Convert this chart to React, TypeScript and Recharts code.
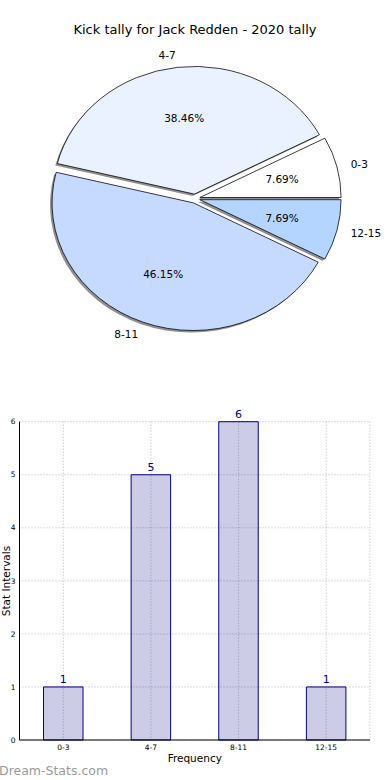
import React from 'react';
import { PieChart, Pie, Cell, BarChart, Bar, XAxis, YAxis, CartesianGrid, LabelList, Label } from 'recharts';

const categories = ['0-3', '4-7', '8-11', '12-15'];
const counts = [1, 5, 6, 1];
const sliceColors = ['#ffffff', '#eaf2ff', '#c6d9ff', '#b3d5ff'];
const yTicks = [0, 1, 2, 3, 4, 5, 6];

const pieData = categories.map((name, i) => ({ name, value: counts[i] }));
const barData = categories.map((name, i) => ({ name, count: counts[i] }));

const FONT = '"DejaVu Sans", sans-serif';

// pie is drawn as a circle and squashed vertically into an ellipse
const SQUASH = 127.7 / 141.2;
const R = 141.2;
const CX = 195;
const CY = 219.6;
const EXPLODE = 5;

const total = counts.reduce((a, b) => a + b, 0);
const midAngles = counts.map((v, i) => {
  const before = counts.slice(0, i).reduce((a, b) => a + b, 0);
  return ((before + v / 2) / total) * 360;
});

const rad = (deg: number) => (deg * Math.PI) / 180;

const makeLabel = (k: number) => (props: any) => {
  if (props.index !== k) return <g />;
  const { cx, cy, midAngle, outerRadius, percent, name } = props;
  const c = Math.cos(rad(midAngle));
  const s = Math.sin(rad(midAngle));
  const nx = cx + outerRadius * 1.1 * c;
  const ny = cy - outerRadius * 1.1 * s;
  const px = cx + outerRadius * 0.6 * c;
  const py = cy - outerRadius * 0.6 * s;
  return (
    <g>
      <text
        transform={`translate(${nx},${ny}) scale(1,${1 / SQUASH})`}
        textAnchor={c > 0 ? 'start' : 'end'}
        dominantBaseline="central"
        fontSize={10.5}
        fontFamily={FONT}
        fill="#000"
      >
        {name}
      </text>
      <text
        transform={`translate(${px},${py}) scale(1,${1 / SQUASH})`}
        textAnchor="middle"
        dominantBaseline="central"
        fontSize={10.5}
        fontFamily={FONT}
        fill="#000"
      >
        {(percent * 100).toFixed(2)}%
      </text>
    </g>
  );
};

export default function App() {
  return (
    <div style={{ position: 'absolute', left: 0, top: 0, width: 390, height: 780, background: '#fff', overflow: 'hidden', fontFamily: FONT }}>
      <div style={{ position: 'absolute', left: 0, top: 22, width: 390, textAlign: 'center', fontSize: 13, color: '#000' }}>
        Kick tally for Jack Redden - 2020 tally
      </div>

      <div style={{ position: 'absolute', left: 0, top: 0, width: 390, height: 400, transform: `scaleY(${SQUASH})`, transformOrigin: '0 0' }}>
        <PieChart width={390} height={400} margin={{ top: 0, right: 0, bottom: 0, left: 0 }}>
          {categories.map((cat, k) => (
            <Pie
              key={'shadow-' + cat}
              data={pieData}
              dataKey="value"
              nameKey="name"
              cx={CX + EXPLODE * Math.cos(rad(midAngles[k])) - 2}
              cy={CY - EXPLODE * Math.sin(rad(midAngles[k])) + 2.2}
              outerRadius={R}
              startAngle={0}
              endAngle={360}
              isAnimationActive={false}
              label={false}
              labelLine={false}
            >
              {pieData.map((d, i) => (
                <Cell key={d.name} fill={i === k ? '#333' : 'none'} fillOpacity={0.55} stroke="none" />
              ))}
            </Pie>
          ))}
          {categories.map((cat, k) => (
            <Pie
              key={'slice-' + cat}
              data={pieData}
              dataKey="value"
              nameKey="name"
              cx={CX + EXPLODE * Math.cos(rad(midAngles[k]))}
              cy={CY - EXPLODE * Math.sin(rad(midAngles[k]))}
              outerRadius={R}
              startAngle={0}
              endAngle={360}
              isAnimationActive={false}
              label={makeLabel(k)}
              labelLine={false}
            >
              {pieData.map((d, i) => (
                <Cell
                  key={d.name}
                  fill={i === k ? sliceColors[i] : 'none'}
                  stroke={i === k ? '#000' : 'none'}
                  strokeWidth={0.8}
                />
              ))}
            </Pie>
          ))}
        </PieChart>
      </div>

      <div style={{ position: 'absolute', left: 0, top: 400 }}>
        <BarChart width={390} height={380} data={barData} margin={{ top: 21.7, right: 20, bottom: 28, left: 0 }}>
          <CartesianGrid stroke="#b8b8b8" strokeDasharray="1 2" />
          <XAxis
            dataKey="name"
            height={12}
            tickSize={0}
            tickMargin={5}
            tickLine={false}
            axisLine={{ stroke: '#000' }}
            tick={{ fontSize: 7.5, fill: '#000', fontFamily: FONT }}
            interval={0}
          >
            <Label value="Frequency" position="bottom" offset={3} fontSize={10.5} fill="#000" fontFamily={FONT} />
          </XAxis>
          <XAxis xAxisId="top" dataKey="name" orientation="top" height={0} tick={false} tickLine={false} axisLine={{ stroke: '#000' }} />
          <YAxis
            width={19.5}
            domain={[0, 6]}
            ticks={yTicks}
            tickSize={0}
            tickMargin={4}
            tickLine={false}
            axisLine={{ stroke: '#000' }}
            tick={{ fontSize: 7.5, fill: '#000', fontFamily: FONT }}
          />
          <YAxis yAxisId="right" orientation="right" width={0} domain={[0, 6]} type="number" tick={false} tickLine={false} axisLine={{ stroke: '#000' }} />
          <Bar dataKey="count" barSize={39.5} fill="#000080" fillOpacity={0.2} stroke="#000080" strokeWidth={1} isAnimationActive={false}>
            <LabelList dataKey="count" position="top" offset={4} fill="#000080" fontSize={11} fontFamily={FONT} />
          </Bar>
        </BarChart>
      </div>

      <svg width={390} height={780} style={{ position: 'absolute', left: 0, top: 0, pointerEvents: 'none' }}>
        <text
          transform="translate(6,581) rotate(-90)"
          textAnchor="middle"
          dominantBaseline="central"
          fontSize={10.5}
          fontFamily={FONT}
          fill="#000"
        >
          Stat Intervals
        </text>
        <text x={-1} y={775} fontSize={12.5} fontFamily={FONT} fill="#9a9a9a">
          Dream-Stats.com
        </text>
      </svg>
    </div>
  );
}
